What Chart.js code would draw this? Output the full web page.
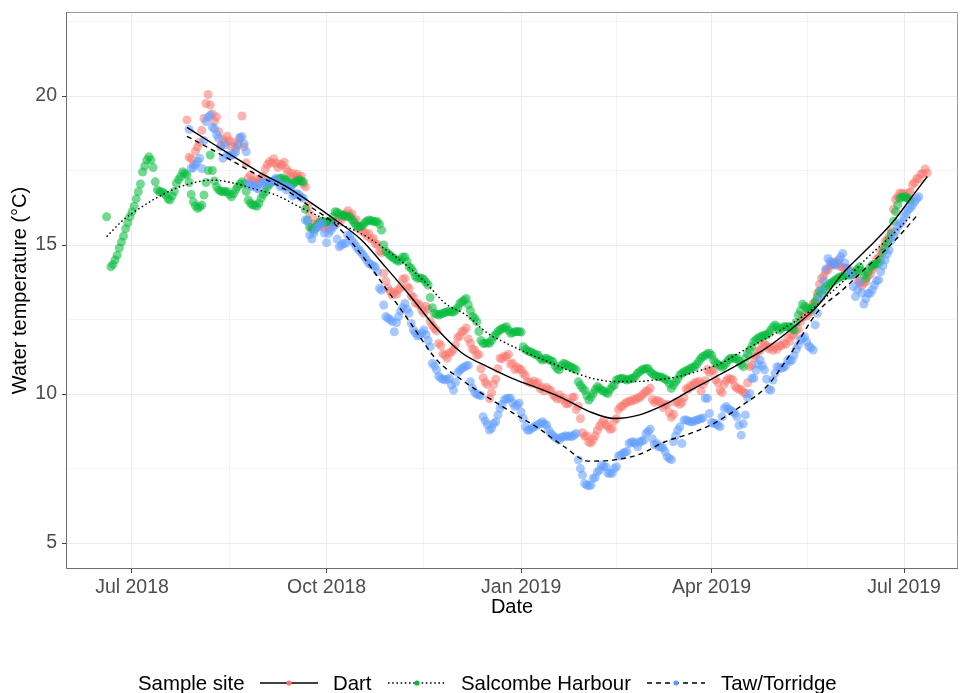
<!DOCTYPE html>
<html>
<head>
<meta charset="utf-8">
<script src="https://cdn.jsdelivr.net/npm/chart.js@4.4.1/dist/chart.umd.min.js"></script>
<style>
  html, body { margin: 0; padding: 0; background: #ffffff; }
  #wrap { position: relative; width: 960px; height: 693px; }
  #legend { position: absolute; left: 0; top: 671px; width: 960px; height: 24px;
            font-family: "Liberation Sans", Arial, sans-serif; font-size: 20.4px; color: #000; }
  #legend .item { position: absolute; top: 0; line-height: 24px; white-space: nowrap; }
  #legend svg { position: absolute; top: 7px; }
</style>
</head>
<body>
<div id="wrap">
  <canvas id="chart" width="960" height="693"></canvas>
  <div id="legend"></div>
</div>
<script>
// Daily water temperature (°C) at three estuary sites.
// x positions are days counted from 1 July 2018; one value per day from each start day.
const siteNames = ['Dart', 'Salcombe Harbour', 'Taw/Torridge'];
const siteColors = ['248,118,109', '0,186,56', '97,156,255'];

const dartStartDay = 26;
const dartTemps = [
  19.2, 17.95, 17.9, 17.7, 18.15, 18.3, 18.45, 18.85, 19.25, 19.75,
  20.05, 19.7, 19.4, 19.15, 19.3, 18.8, 18.35, 18.55, 18.45, 18.65,
  18.5, 18.3, 18.45, 18.25, 18.4, 18.58, 19.33, 18.3, 17.75, 17.25,
  17.35, 17.15, 17.1, 17.2, 17.1, 17.25, 17.3, 17.55, 17.7, 17.8,
  17.75, 17.9, 17.75, 17.6, 17.72, 17.68, 17.78, 17.55, 17.45, 17.3,
  17.4, 17.3, 17.38, 17.25, 17.32, 17.05, 16.95, 16.3, 16.05, 15.6,
  15.7, 15.84, 15.72, 15.65, 15.75, 15.55, 15.65, 15.58, 15.75, 15.68,
  15.8, 15.75, 15.9, 15.85, 16.0, 16.05, 16.15, 16.0, 16.05, 15.8,
  15.85, 15.55, 15.6, 15.45, 15.42, 15.3, 15.38, 15.2, 15.22, 15.05,
  15.02, 14.8, 14.75, 14.05, 13.78, 13.55, 13.45, 13.32, 13.42, 13.35,
  13.5, 13.58, 13.85, 13.88, 13.6, 13.55, 13.3, 13.25, 13.05, 13.05,
  12.98, 12.82, 12.72, 12.95, 12.85, 12.45, 12.3, 12.2, 12.12, 11.7,
  11.62, 11.35, 11.3, 11.2, 11.38, 11.4, 11.5, 11.65, 11.9, 11.95,
  12.1, 12.12, 12.22, 11.85, 11.7, 11.5, 11.48, 11.3, 11.33, 10.85,
  10.55, 10.4, 10.32, 9.85, 10.05, 10.33, 10.5, 10.85, 11.2, 11.18,
  11.28, 11.25, 11.33, 11.0, 11.03, 10.82, 10.9, 10.84, 10.82, 10.7,
  10.62, 10.42, 10.4, 10.36, 10.44, 10.33, 10.38, 10.18, 10.22, 10.1,
  10.22, 10.15, 10.12, 9.98, 9.92, 9.84, 9.98, 9.82, 9.88, 9.68,
  9.67, 9.72, 9.88, 9.9, 9.48, 9.6, 9.18, 8.7, 8.58, 8.6,
  8.38, 8.36, 8.48, 8.6, 8.78, 8.92, 9.02, 9.12, 8.98, 8.92,
  8.82, 8.84, 9.1, 9.18, 9.48, 9.58, 9.6, 9.68, 9.72, 9.77,
  9.75, 9.83, 9.8, 9.88, 9.87, 9.95, 10.02, 10.1, 10.1, 10.2,
  9.82, 9.72, 9.78, 9.77, 9.72, 9.55, 9.63, 9.66, 9.38, 9.22,
  9.32, 9.72, 9.75, 9.66, 9.72, 9.88, 10.18, 10.16, 10.28, 10.27,
  10.38, 10.38, 10.43, 10.1, 10.33, 10.45, 10.82, 10.72, 10.8, 10.78,
  10.48, 10.38, 10.12, 10.05, 10.33, 10.45, 10.53, 10.5, 10.48, 10.27,
  10.2, 10.16, 10.15, 10.07, 10.02, 10.38, 10.92, 10.97, 11.22, 11.28,
  11.43, 11.48, 11.67, 11.68, 11.62, 11.52, 11.58, 11.47, 11.58, 11.5,
  11.63, 11.62, 11.7, 11.67, 11.88, 11.78, 11.98, 11.97, 12.13, 12.18,
  12.43, 12.57, 12.66, 12.62, 12.73, 12.77, 13.03, 13.07, 13.38, 13.68,
  13.88, 13.96, 14.13, 14.17, 14.33, 14.32, 14.43, 14.42, 14.38, 14.27,
  14.25, 14.22, 14.23, 14.12, 14.13, 14.02, 14.03, 13.82, 13.73, 13.63,
  13.73, 13.77, 13.98, 14.02, 14.18, 14.27, 14.53, 14.57, 14.78, 14.92,
  15.13, 15.17, 15.3, 15.48, 16.2, 16.53, 16.62, 16.75, 16.72, 16.73,
  16.62, 16.75, 16.78, 17.03, 17.1, 17.23, 17.22, 17.38, 17.4, 17.55, 17.42
];

const salcombeStartDay = -12;
const salcombeTemps = [
  15.95, null, 14.27, 14.35, 14.5, 14.66, 14.9, 15.1, 15.3, 15.55,
  15.75, 15.95, 16.12, 16.3, 16.55, 16.79, 17.05, 17.45, 17.65, 17.85,
  17.96, 17.85, 17.6, 17.12, 16.85, 16.79, 16.79, 16.75, 16.68, 16.55,
  16.51, 16.65, 16.8, 17.07, 17.2, 17.3, 17.46, 17.4, 17.35, 17.1,
  16.7, 16.45, 16.32, 16.23, 16.28, 16.34, 16.68, 17.1, 17.5, 18.02,
  17.5, 17.15, 16.95, 16.85, 16.8, 16.79, 16.8, 16.79, 16.7, 16.62,
  16.72, 16.85, 16.96, 17.05, 17.12, 17.05, 16.8, 16.51, 16.4, 16.34,
  16.34, 16.3, 16.4, 16.57, 16.7, 16.79, 16.95, 17.05, 17.12, 17.15,
  17.18, 17.2, 17.24, 17.25, 17.2, 17.18, 17.1, 17.01, 17.05, 17.1,
  17.15, 17.18, 17.15, 17.12, 16.2, 15.84, 15.6, 15.55, 15.5, 15.6,
  15.7, 15.78, 15.8, 15.75, 15.78, 15.8, 15.78, 15.95, 16.12, 16.1,
  16.05, 16.0, 16.0, 15.97, 15.95, 15.95, 15.85, 15.75, 15.65, 15.61,
  15.62, 15.65, 15.75, 15.8, 15.84, 15.82, 15.8, 15.78, 15.78, 15.7,
  15.5, 15.0, 14.78, 14.72, 14.65, 14.6, 14.55, 14.5, 14.45, 14.5,
  14.6, 14.6, 14.45, 14.27, 14.22, 14.1, 13.95, 13.88, 13.9, 13.88,
  13.85, 13.75, 13.66, 13.24, 12.9, 12.71, 12.68, 12.65, 12.68, 12.71,
  12.74, 12.76, 12.78, 12.75, 12.75, 12.82, 12.9, 13.04, 13.1, 13.15,
  13.21, 13.0, 12.8, 12.6, 12.55, 12.43, 12.1, 11.8, 11.7, 11.7,
  11.72, 11.7, 11.8, 11.92, 12.0, 12.1, 12.15, 12.2, 12.22, 12.26,
  12.15, 12.04, 12.06, 12.09, 12.1, 12.09, 12.08, 11.59, 11.5, 11.45,
  11.42, 11.4, 11.35, 11.32, 11.31, 11.2, 11.14, 11.18, 11.2, 11.15,
  11.12, 11.09, 10.95, 10.85, 10.81, 10.95, 11.03, 11.0, 10.96, 10.92,
  10.9, 10.85, 10.81, 10.41, 10.3, 10.2, 10.13, 9.95, 9.8, 9.9,
  10.02, 10.15, 10.25, 10.2, 10.13, 10.1, 10.05, 10.02, 10.15, 10.25,
  10.3, 10.47, 10.5, 10.52, 10.53, 10.5, 10.47, 10.5, 10.52, 10.53,
  10.6, 10.7, 10.75, 10.81, 10.83, 10.86, 10.86, 10.75, 10.68, 10.64,
  10.6, 10.58, 10.57, 10.55, 10.5, 10.47, 10.35, 10.19, 10.3, 10.41,
  10.5, 10.64, 10.7, 10.75, 10.78, 10.81, 10.86, 10.9, 10.92, 11.0,
  11.1, 11.2, 11.26, 11.3, 11.35, 11.37, 11.3, 11.14, 11.05, 11.0,
  10.95, 10.9, 10.97, 11.05, 11.15, 11.2, 11.2, 11.2, 11.2, 11.1,
  11.0, 10.92, 11.2, 11.35, 11.48, 11.6, 11.76, 11.82, 11.88, 11.92,
  11.95, 11.98, 11.98, 12.05, 12.15, 12.25, 12.32, 12.25, 12.15, 12.2,
  12.26, 12.26, 12.26, 12.26, 12.2, 12.15, 12.4, 12.65, 12.8, 13.02,
  12.95, 12.9, 12.85, 12.85, 12.93, 13.1, 13.25, 13.45, 13.38, 13.5,
  13.6, 13.65, 13.71, 13.75, 13.8, 13.85, 13.9, 13.94, 13.95, 13.97,
  14.0, 13.99, 14.0, 14.05, 14.1, 14.2, 14.27, 14.15, 14.0, 13.88,
  14.1, 14.25, 14.33, 14.35, 14.37, 14.39, 14.5, 14.75, 14.9, 15.06,
  15.2, 15.39, 15.8, 16.12, 16.35, 16.57, 16.6, 16.62, 16.6, 16.55,
  16.5
];

const tawStartDay = 27;
const tawTemps = [
  18.88, 17.57, 17.6, 17.7, 17.8, 17.91, 17.57, 18.5, 19.14, 19.3,
  19.36, 18.95, 18.9, 18.7, 18.58, 18.3, 17.91, 18.36, 18.02, 18.0,
  18.0, 18.05, 18.13, 18.35, 18.61, 18.64, 18.4, 18.13, 17.07, 17.0,
  16.96, 17.01, 16.9, 16.88, 17.07, 17.1, 17.1, 17.12, 17.1, 17.12,
  17.15, 17.24, 17.1, 16.96, 16.98, 17.01, 16.85, 16.96, 16.9, 16.65,
  16.7, 16.73, 16.68, 16.6, 16.57, 15.84, 15.78, 15.34, 15.2, 15.4,
  15.56, 15.6, 15.7, 15.73, 15.4, 15.08, 15.39, 15.5, 15.6, 15.67,
  15.2, 14.94, 15.0, 15.05, 15.06, 15.34, 15.3, 15.15, 15.06, 14.95,
  14.85, 14.78, 14.7, 14.6, 14.5, 14.38, 14.35, 14.3, 14.27, 14.1,
  13.55, 13.49, 12.99, 12.6, 12.55, 12.5, 12.43, 12.09, 12.4, 12.6,
  12.79, 12.9, 13.04, 12.85, 12.71, 12.37, 12.15, 12.05, 11.95, 11.98,
  12.05, 12.15, 12.0, 11.8, 11.59, 11.03, 10.95, 10.81, 10.6, 10.53,
  10.5, 10.47, 10.5, 10.53, 10.3, 10.13, 10.4, 10.72, 10.8, 10.86,
  10.9, 10.95, 10.97, 10.41, 10.2, 10.05, 10.0, 9.97, 9.94, 9.24,
  9.1, 8.98, 8.79, 8.85, 9.01, 9.07, 9.3, 9.52, 9.65, 9.8,
  9.85, 9.86, 9.86, 9.7, 9.58, 9.63, 9.69, 9.4, 9.18, 8.9,
  8.79, 8.79, 8.85, 8.9, 8.93, 8.98, 9.01, 9.07, 9.0, 8.96,
  8.8, 8.68, 8.6, 8.55, 8.51, 8.46, 8.55, 8.57, 8.6, 8.57,
  8.6, 8.57, 8.62, 8.68, 7.79, 7.5, 7.28, 7.0, 6.95, 6.92,
  6.95, 7.17, 7.2, 7.39, 7.45, 7.62, 7.56, 7.56, 7.34, 7.34,
  7.34, 7.5, 7.56, 7.92, 7.95, 8.01, 8.05, 8.07, 8.34, 8.38,
  8.4, 8.35, 8.23, 8.4, 8.42, 8.46, 8.68, 8.75, 8.82, 8.5,
  8.3, 8.34, 8.23, 8.23, 8.2, 8.07, 7.9, 7.84, 7.8, 8.4,
  8.6, 8.79, 8.9, 8.34, 9.13, 9.13, 9.1, 9.07, 9.07, 9.1,
  9.13, 9.15, 9.18, 9.2, 9.86, 9.86, 9.35, 9.05, 9.01, 9.01,
  8.95, 8.9, 9.24, 9.52, 9.58, 9.5, 9.45, 9.41, 9.35, 9.24,
  8.95, 8.62, 9.0, 9.3, 9.88, 10.02, 10.53, 10.53, 10.8, 11.0,
  11.14, 10.95, 10.81, 10.5, 10.16, 10.13, 10.47, 10.7, 10.92, 10.9,
  10.86, 10.89, 10.95, 11.14, 11.1, 11.14, 11.3, 11.5, 11.64, 11.81,
  11.87, 11.92, 11.75, 11.6, 11.55, 11.48, 12.32, 12.71, 13.21, 13.49,
  13.8, 14.2, 14.55, 14.45, 14.39, 14.35, 14.33, 14.5, 14.6, 14.72,
  14.4, 14.22, 14.1, 13.99, 13.6, 13.27, 13.5, 13.77, 13.4, 13.02,
  13.2, 13.38, 13.38, 13.5, 13.65, 13.8, 13.83, 14.1, 14.3, 14.5,
  14.7, 14.83, 15.17, 15.3, 15.45, 15.61, 15.7, 15.78, 15.95, 16.05,
  16.18, 16.25, 16.34, 16.45, 16.55, 16.62
];

// Smoothed trend per site (local regression fit), sampled at the listed days.
const dartTrendDays = [26, 36, 48, 60, 72, 84, 96, 108, 120, 132, 144, 156, 168, 180, 192,
  204, 216, 228, 240, 252, 264, 276, 288, 300, 312, 324, 336, 348, 360, 368, 376];
const dartTrend = [18.95, 18.5, 17.97, 17.45, 17.0, 16.45, 15.85, 15.2, 14.25, 13.25, 12.2,
  11.38, 10.92, 10.52, 10.2, 9.85, 9.42, 9.18, 9.3, 9.65, 10.12, 10.58, 11.05, 11.55, 12.2,
  12.95, 14.05, 14.9, 15.8, 16.55, 17.3];

const salcombeTrendDays = [-12, -4, 4, 12, 20, 28, 38, 48, 58, 68, 78, 88, 98, 108, 118, 128,
  138, 148, 158, 168, 178, 188, 198, 208, 218, 228, 238, 248, 258, 268, 278, 288, 298, 308,
  318, 328, 338, 348, 358, 368];
const salcombeTrend = [15.28, 15.85, 16.25, 16.6, 16.88, 17.07, 17.18, 17.08, 16.88, 16.68,
  16.32, 15.98, 15.7, 15.4, 14.95, 14.42, 13.8, 13.05, 12.65, 12.05, 11.67, 11.34, 11.05,
  10.75, 10.52, 10.42, 10.42, 10.48, 10.58, 10.78, 11.02, 11.42, 11.8, 12.2, 12.65, 13.25,
  13.9, 14.6, 15.25, 15.95];

const tawTrendDays = [26, 36, 48, 60, 72, 84, 96, 108, 120, 132, 144, 156, 168, 180, 192, 204,
  216, 228, 240, 252, 264, 276, 288, 300, 312, 324, 336, 348, 360, 372];
const tawTrend = [18.65, 18.27, 17.8, 17.32, 16.88, 16.3, 15.7, 14.72, 13.55, 12.35, 11.15,
  10.47, 9.9, 9.37, 8.86, 8.25, 7.75, 7.79, 7.98, 8.4, 8.68, 9.05, 9.6, 10.25, 11.42, 12.75,
  13.5, 14.3, 15.1, 16.06];

// Axis breaks
const dateTickDays = [0, 92, 184, 274, 365];
const dateTickLabels = ['Jul 2018', 'Oct 2018', 'Jan 2019', 'Apr 2019', 'Jul 2019'];
const dateMinorDays = [46, 138, 229, 319.5];
const tempTicks = [5, 10, 15, 20];
const tempMinorTicks = [7.5, 12.5, 17.5, 22.5];

const FONT = '"Liberation Sans", Arial, sans-serif';

function series(startDay, temps) {
  return temps.map((t, i) => ({ x: startDay + i, y: t }));
}
function trend(days, temps) {
  return days.map((d, i) => ({ x: d, y: temps[i] }));
}

const pointSets = [
  series(dartStartDay, dartTemps),
  series(salcombeStartDay, salcombeTemps),
  series(tawStartDay, tawTemps)
];
const trendSets = [
  trend(dartTrendDays, dartTrend),
  trend(salcombeTrendDays, salcombeTrend),
  trend(tawTrendDays, tawTrend)
];
const trendDash = [[], [1.6, 2.6], [5, 4]];

const datasets = [];
trendSets.forEach((d, i) => datasets.push({
  type: 'line', label: siteNames[i] + ' trend', data: d, order: 0,
  borderColor: '#000000', borderWidth: 1.4, borderDash: trendDash[i],
  pointRadius: 0, fill: false, cubicInterpolationMode: 'monotone'
}));
pointSets.forEach((d, i) => datasets.push({
  type: 'scatter', label: siteNames[i], data: d, order: 3 - i,
  backgroundColor: 'rgba(' + siteColors[i] + ',0.55)', borderWidth: 0,
  pointRadius: 4.5, pointHoverRadius: 4.5
}));

const isMajor = (list, v) => list.some(t => Math.abs(t - v) < 1e-6);

const panelBorder = {
  id: 'panelBorder',
  afterDatasetsDraw(chart) {
    const a = chart.chartArea, c = chart.ctx;
    c.save();
    c.lineWidth = 1;
    c.strokeStyle = '#9a9a9a';
    c.beginPath();
    c.moveTo(a.left, a.top + 0.5); c.lineTo(a.right - 0.5, a.top + 0.5); c.lineTo(a.right - 0.5, a.bottom);
    c.stroke();
    c.strokeStyle = '#6e6e6e';
    c.beginPath();
    c.moveTo(a.left + 0.5, a.top); c.lineTo(a.left + 0.5, a.bottom - 0.5); c.lineTo(a.right, a.bottom - 0.5);
    c.stroke();
    c.restore();
  }
};

function noPad(s) { s.paddingTop = 0; s.paddingBottom = 0; s.paddingLeft = 0; s.paddingRight = 0; }

new Chart(document.getElementById('chart'), {
  data: { datasets },
  options: {
    responsive: false,
    animation: false,
    events: [],
    layout: { autoPadding: false, padding: { left: 0, top: 12, right: 2, bottom: 0 } },
    plugins: { legend: { display: false }, tooltip: { enabled: false } },
    scales: {
      x: {
        type: 'linear', min: -31.2, max: 390.5,
        afterBuildTicks: s => { s.ticks = dateTickDays.concat(dateMinorDays).sort((a, b) => a - b).map(v => ({ value: v })); },
        afterFit: s => { s.height = 124; noPad(s); },
        ticks: {
          autoSkip: false, maxRotation: 0, padding: 3, color: '#4d4d4d',
          font: { family: FONT, size: 19.5 },
          callback: v => { const k = dateTickDays.findIndex(t => Math.abs(t - v) < 1e-6); return k >= 0 ? dateTickLabels[k] : ''; }
        },
        grid: {
          color: c => isMajor(dateTickDays, c.tick.value) ? '#ebebeb' : '#f4f4f4',
          lineWidth: 1, tickLength: 4, tickWidth: 1,
          tickColor: c => isMajor(dateTickDays, c.tick.value) ? '#444444' : 'rgba(0,0,0,0)'
        },
        border: { display: false },
        title: { display: true, text: 'Date', color: '#000', font: { family: FONT, size: 20 }, padding: { top: 0, bottom: 74 } }
      },
      y: {
        type: 'linear', min: 4.13, max: 22.82,
        afterBuildTicks: s => { s.ticks = tempTicks.concat(tempMinorTicks).sort((a, b) => a - b).map(v => ({ value: v })); },
        afterFit: s => { s.width = 66; noPad(s); },
        ticks: {
          autoSkip: false, padding: 5, color: '#4d4d4d',
          font: { family: FONT, size: 19.5 },
          callback: v => isMajor(tempTicks, v) ? String(v) : ''
        },
        grid: {
          color: c => isMajor(tempTicks, c.tick.value) ? '#ebebeb' : '#f4f4f4',
          lineWidth: 1, tickLength: 4, tickWidth: 1,
          tickColor: c => isMajor(tempTicks, c.tick.value) ? '#444444' : 'rgba(0,0,0,0)'
        },
        border: { display: false },
        title: { display: true, text: 'Water temperature (°C)', color: '#000', font: { family: FONT, size: 20 }, padding: { top: 8, bottom: 0 } }
      }
    }
  },
  plugins: [panelBorder]
});

// Legend: title, then one key (trend line style + site colour dot) per site
const legend = document.getElementById('legend');
const legendTitle = 'Sample site';
const keyLeft = [260, 388, 647];
const labelLeft = [333, 461, 721];
const keyDash = ['', '1.6 2.6', '5 4'];
function addText(text, left) {
  const s = document.createElement('span');
  s.className = 'item'; s.style.left = left + 'px'; s.textContent = text;
  legend.appendChild(s);
}
addText(legendTitle, 138);
siteNames.forEach((name, i) => {
  const ns = 'http://www.w3.org/2000/svg';
  const svg = document.createElementNS(ns, 'svg');
  svg.setAttribute('width', '58'); svg.setAttribute('height', '10');
  svg.style.left = keyLeft[i] + 'px';
  const ln = document.createElementNS(ns, 'line');
  ln.setAttribute('x1', '0'); ln.setAttribute('x2', '58'); ln.setAttribute('y1', '5'); ln.setAttribute('y2', '5');
  ln.setAttribute('stroke', '#000'); ln.setAttribute('stroke-width', '1.3');
  if (keyDash[i]) ln.setAttribute('stroke-dasharray', keyDash[i]);
  svg.appendChild(ln);
  const dot = document.createElementNS(ns, 'circle');
  dot.setAttribute('cx', '29'); dot.setAttribute('cy', '5'); dot.setAttribute('r', '2.6');
  dot.setAttribute('fill', 'rgb(' + siteColors[i] + ')');
  svg.appendChild(dot);
  legend.appendChild(svg);
  addText(name, labelLeft[i]);
});
</script>
</body>
</html>
